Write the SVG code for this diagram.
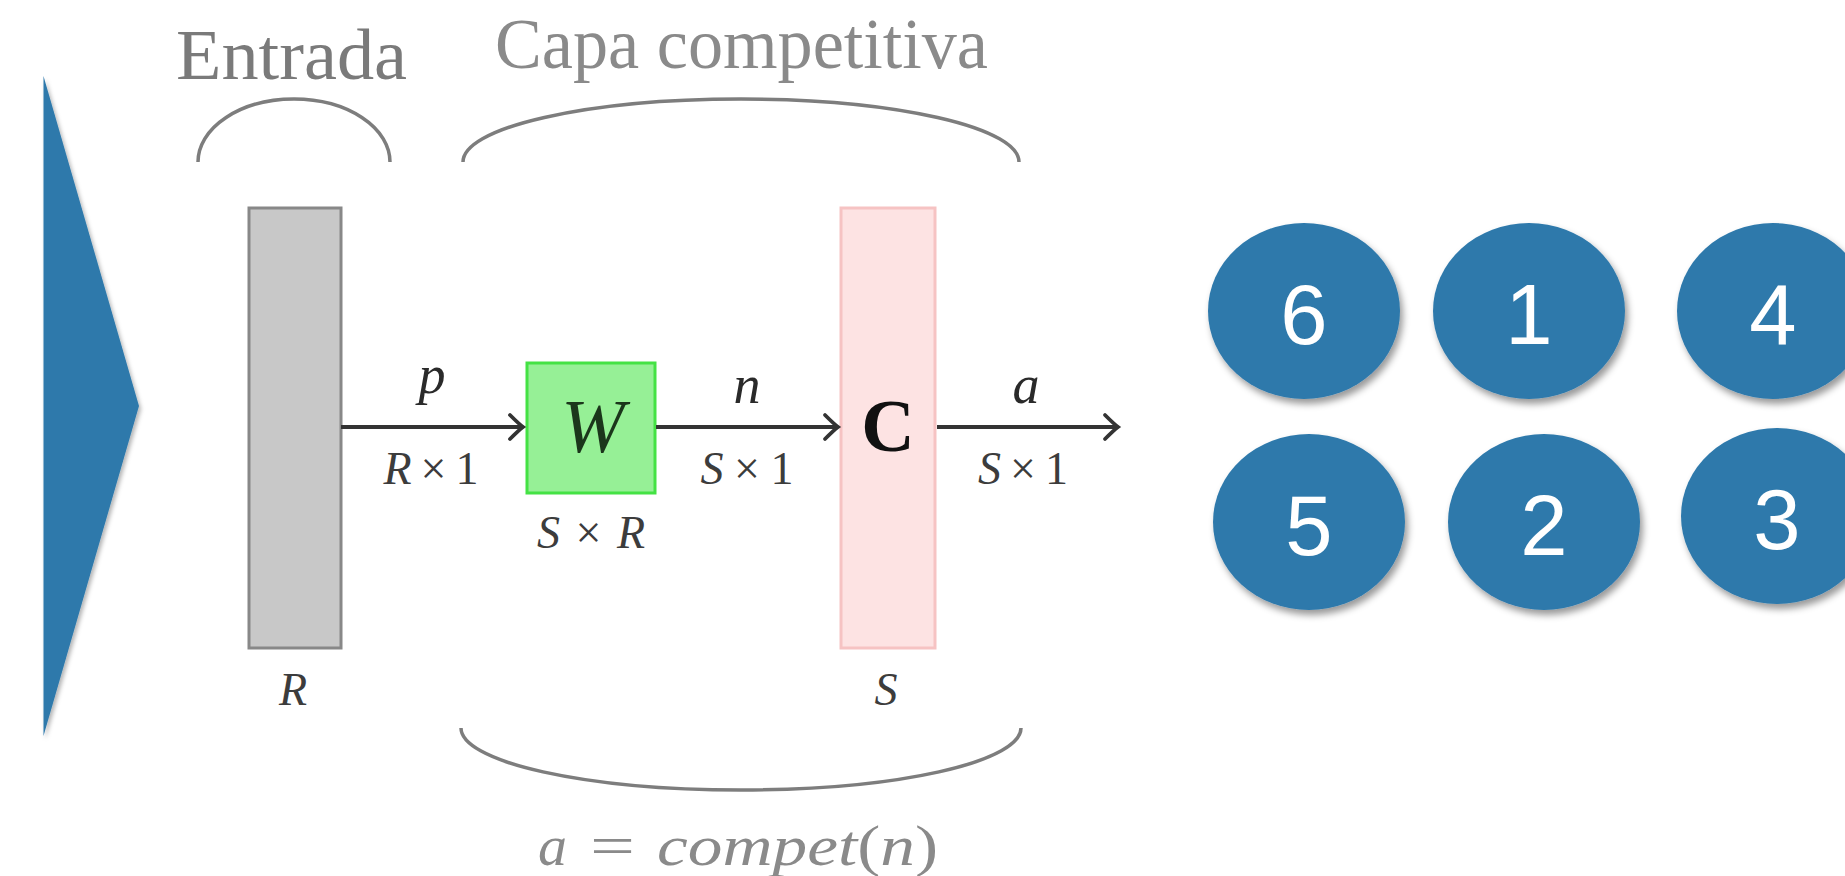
<svg xmlns="http://www.w3.org/2000/svg" width="1845" height="876" viewBox="0 0 1845 876">
<style>
.serif{font-family:"Liberation Serif","Times New Roman",serif}
.it{font-style:italic}
.lbl{font-family:"Liberation Serif","Times New Roman",serif;font-style:italic;fill:#2a2a2a;text-anchor:middle}
.dim{font-family:"Liberation Serif","Times New Roman",serif;fill:#3c3c3c;font-size:46px;text-anchor:middle}
.brace{fill:none;stroke:#7d7d7d;stroke-width:3.5}
.num{font-family:"Liberation Sans",Arial,sans-serif;font-size:85px;fill:#ffffff;text-anchor:middle}
.blob{fill:#2e79ab}
.wire{stroke:#333;stroke-width:3.8;fill:none}
.fml{font-family:"Liberation Serif","Times New Roman",serif;font-size:56px;fill:#8a8a8a}
</style>
<defs>
<filter id="sh" x="-20%" y="-20%" width="150%" height="150%">
<feDropShadow dx="3" dy="5" stdDeviation="3.5" flood-color="#000" flood-opacity="0.4"/>
</filter>
<filter id="sh2" x="-20%" y="-10%" width="150%" height="130%">
<feDropShadow dx="2" dy="3" stdDeviation="2" flood-color="#000" flood-opacity="0.3"/>
</filter>
<marker id="arr" markerUnits="userSpaceOnUse" markerWidth="30" markerHeight="30" refX="0" refY="0" viewBox="-16 -15 20 30" orient="auto" overflow="visible">
<path d="M-13,-12 Q-4,-3 0,0 Q-4,3 -13,12" fill="none" stroke="#333" stroke-width="3.8" stroke-linecap="round"/>
</marker>
</defs>
<rect width="1845" height="876" fill="#ffffff"/>

<g id="triangle">
<polygon class="blob" points="43.5,76 139,406 43.5,736" filter="url(#sh2)"/>
</g>

<g id="entrada">
<text class="serif" x="176" y="79" font-size="72" fill="#7a7a7a" textLength="231" lengthAdjust="spacingAndGlyphs">Entrada</text>
<path class="brace" d="M198,162 A96,63 0 0 1 390,162"/>
</g>

<g id="capa">
<text class="serif" x="495" y="68" font-size="72" fill="#8a8a8a" textLength="493" lengthAdjust="spacingAndGlyphs">Capa competitiva</text>
<path class="brace" d="M463,162 A278,63 0 0 1 1019,162"/>
<path class="brace" d="M461,728 A280,62 0 0 0 1021,728"/>
<text class="fml it" x="538" y="865" textLength="29" lengthAdjust="spacingAndGlyphs">a</text>
<text class="fml" x="590" y="865" textLength="45" lengthAdjust="spacingAndGlyphs">=</text>
<text class="fml" x="657" y="865" textLength="281" lengthAdjust="spacingAndGlyphs"><tspan class="it">compet</tspan>(<tspan class="it">n</tspan>)</text>
</g>

<g id="input">
<rect x="249" y="208" width="92" height="440" fill="#c8c8c8" stroke="#888" stroke-width="3"/>
<text class="dim it" x="293" y="705">R</text>
</g>

<g id="weights">
<rect x="527" y="363" width="128" height="130" fill="#96f096" stroke="#44e244" stroke-width="3"/>
<text class="lbl" x="593" y="452" font-size="76" style="fill:#1b361b">W</text>
<text class="dim" x="591" y="548" textLength="108" lengthAdjust="spacing"><tspan class="it">S</tspan>×<tspan class="it">R</tspan></text>
</g>

<g id="compet">
<rect x="841" y="208" width="94" height="440" fill="#fde3e3" stroke="#f6c3c3" stroke-width="3"/>
<text class="serif" x="888" y="451" font-size="74" font-weight="bold" fill="#111" text-anchor="middle">C</text>
<text class="dim it" x="886" y="705">S</text>
</g>

<g id="connectors">
<line class="wire" x1="341" y1="427" x2="523" y2="427" marker-end="url(#arr)"/>
<line class="wire" x1="656" y1="427" x2="838" y2="427" marker-end="url(#arr)"/>
<line class="wire" x1="937" y1="427" x2="1118" y2="427" marker-end="url(#arr)"/>
<text class="lbl" x="432" y="393" font-size="54">p</text>
<text class="dim" x="431" y="484" textLength="95" lengthAdjust="spacing"><tspan class="it">R</tspan>×1</text>
<text class="lbl" x="747" y="403" font-size="54">n</text>
<text class="dim" x="747" y="484" textLength="93" lengthAdjust="spacing"><tspan class="it">S</tspan>×1</text>
<text class="lbl" x="1026" y="403" font-size="54">a</text>
<text class="dim" x="1023" y="484" textLength="90" lengthAdjust="spacing"><tspan class="it">S</tspan>×1</text>
</g>

<g id="n6"><ellipse class="blob" cx="1304" cy="311" rx="96" ry="88" filter="url(#sh)"/><text class="num" x="1304" y="344">6</text></g>
<g id="n1"><ellipse class="blob" cx="1529" cy="311" rx="96" ry="88" filter="url(#sh)"/><text class="num" x="1529" y="344">1</text></g>
<g id="n4"><ellipse class="blob" cx="1773" cy="311" rx="96" ry="88" filter="url(#sh)"/><text class="num" x="1773" y="344">4</text></g>
<g id="n5"><ellipse class="blob" cx="1309" cy="522" rx="96" ry="88" filter="url(#sh)"/><text class="num" x="1309" y="555">5</text></g>
<g id="n2"><ellipse class="blob" cx="1544" cy="522" rx="96" ry="88" filter="url(#sh)"/><text class="num" x="1544" y="555">2</text></g>
<g id="n3"><ellipse class="blob" cx="1777" cy="516" rx="96" ry="88" filter="url(#sh)"/><text class="num" x="1777" y="549">3</text></g>
</svg>
